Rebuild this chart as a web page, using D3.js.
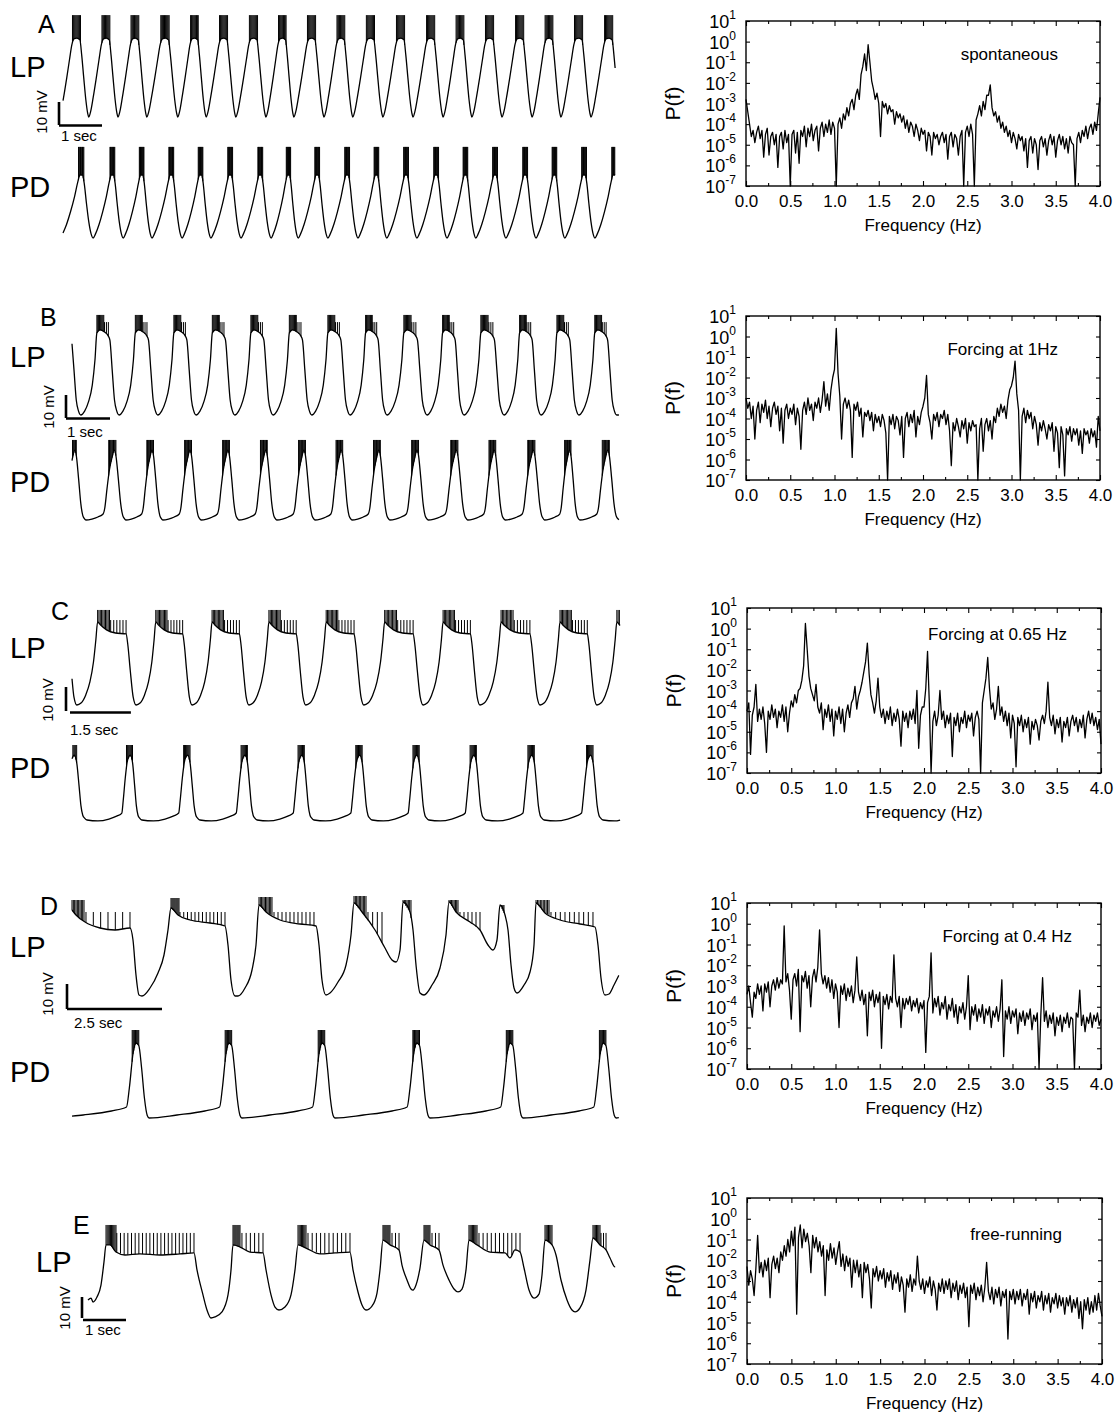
<!DOCTYPE html>
<html><head><meta charset="utf-8">
<script src="https://cdn.jsdelivr.net/npm/d3@7"></script>
<style>body{margin:0;background:#fff}</style>
</head><body>
<script>
// ================= DATA =================
// Power spectra: log10 P(f) sampled every 0.02 Hz from 0.00 to 4.00 Hz
const freqStep = 0.02;
const specA = [
-2.8,-3.4,-4.0,-4.6,-4.3,-4.9,-4.4,-4.1,-4.7,-4.3,
-5.6,-4.5,-4.2,-5.5,-4.6,-4.4,-5.0,-4.5,-6.1,-4.6,
-4.4,-5.2,-4.3,-4.9,-4.5,-7.0,-4.5,-4.3,-5.4,-4.4,
-5.9,-4.3,-4.6,-4.1,-5.1,-4.2,-4.6,-4.0,-4.8,-4.3,
-4.1,-5.3,-4.2,-3.9,-4.6,-4.0,-4.4,-3.8,-4.5,-3.9,
-4.2,-7.0,-4.0,-3.7,-4.2,-3.5,-3.8,-3.2,-3.6,-3.0,
-2.8,-3.3,-2.6,-2.3,-2.8,-1.6,-1.2,-0.6,-1.4,-0.15,
-1.0,-1.9,-2.3,-2.8,-2.5,-3.0,-4.6,-2.9,-3.2,-3.0,
-3.5,-3.1,-3.4,-3.3,-4.0,-3.4,-3.7,-3.5,-3.9,-3.6,
-4.2,-3.8,-4.4,-3.9,-4.1,-4.6,-4.0,-4.3,-4.8,-4.2,
-4.5,-4.3,-5.3,-4.4,-4.6,-5.5,-4.4,-4.7,-4.5,-5.0,
-4.6,-4.4,-4.9,-4.5,-5.7,-4.6,-4.4,-5.1,-4.5,-4.7,
-5.5,-4.6,-4.3,-7.0,-4.4,-4.1,-4.6,-4.0,-4.5,-7.0,
-3.8,-3.5,-3.1,-3.6,-2.9,-3.3,-2.6,-2.6,-2.1,-3.2,
-3.6,-3.4,-3.9,-3.6,-4.2,-3.9,-4.4,-4.1,-4.6,-4.3,
-4.9,-4.4,-4.7,-5.2,-4.5,-4.8,-4.6,-5.3,-4.7,-6.1,
-4.8,-4.6,-5.4,-4.7,-5.0,-6.2,-4.8,-4.6,-5.1,-4.7,
-5.5,-4.8,-4.5,-5.0,-4.6,-5.6,-4.8,-4.5,-5.0,-4.6,
-5.2,-4.7,-5.4,-4.6,-4.9,-5.0,-7.0,-4.7,-4.4,-4.9,
-4.3,-4.6,-4.1,-4.7,-4.2,-4.0,-4.5,-3.9,-4.3,-3.5,
-2.7];
const specB = [
-3.0,-3.5,-3.2,-4.0,-3.4,-5.0,-3.6,-3.2,-4.2,-3.3,
-3.7,-3.1,-4.0,-3.4,-4.4,-3.5,-3.2,-3.8,-3.4,-4.6,
-3.5,-5.2,-3.6,-3.3,-4.0,-3.5,-3.8,-3.3,-4.3,-3.5,
-3.9,-5.5,-3.6,-3.2,-3.8,-3.0,-3.6,-3.3,-4.1,-3.2,
-3.5,-3.0,-3.7,-3.1,-2.2,-3.4,-2.8,-3.6,-2.6,-2.0,
-1.6,0.4,-1.8,-2.9,-5.0,-3.3,-3.0,-3.5,-3.1,-3.6,
-5.9,-3.3,-3.6,-3.2,-3.9,-3.5,-4.9,-3.7,-3.9,-3.6,
-4.1,-3.7,-4.6,-3.8,-4.2,-3.9,-4.4,-3.8,-4.1,-4.7,
-7.0,-3.9,-4.3,-3.8,-4.5,-3.9,-4.1,-4.8,-3.9,-5.9,
-4.0,-3.7,-4.4,-3.8,-4.2,-3.6,-4.9,-3.9,-4.3,-3.7,
-3.4,-3.0,-1.9,-3.8,-4.2,-5.0,-3.8,-4.1,-3.7,-4.4,
-3.8,-4.0,-3.6,-4.3,-3.8,-4.6,-6.3,-4.2,-4.6,-4.0,
-4.4,-4.9,-4.1,-4.5,-4.0,-5.2,-4.2,-4.6,-4.1,-4.4,
-4.3,-7.0,-4.5,-4.0,-5.6,-4.3,-4.0,-4.6,-4.1,-5.0,
-3.9,-4.2,-3.5,-3.9,-3.3,-3.7,-3.4,-4.0,-3.1,-2.6,
-2.4,-2.0,-1.2,-2.8,-3.6,-7.0,-3.9,-3.5,-4.2,-3.6,
-4.0,-3.7,-4.5,-3.9,-4.3,-5.3,-4.2,-4.6,-4.1,-4.5,
-5.0,-4.3,-4.6,-4.2,-5.6,-4.4,-4.7,-6.4,-4.4,-4.8,
-6.8,-4.5,-4.8,-4.4,-5.1,-4.5,-4.8,-4.5,-5.3,-4.6,
-5.7,-4.5,-4.8,-4.6,-5.2,-4.5,-4.9,-4.6,-5.4,-3.9,
-4.6];
const specC = [
-4.0,-3.6,-6.1,-4.2,-3.8,-2.7,-4.5,-3.9,-4.4,-3.8,
-4.6,-6.0,-4.0,-4.4,-3.7,-4.3,-3.9,-4.8,-4.0,-4.3,
-3.7,-4.5,-3.8,-5.0,-4.1,-3.5,-3.8,-3.2,-3.6,-3.0,
-2.9,-2.5,-1.8,0.25,-1.0,-2.3,-2.9,-3.2,-3.5,-2.7,
-3.8,-4.1,-3.6,-4.9,-3.9,-4.3,-3.7,-4.5,-3.9,-5.2,
-4.0,-4.4,-3.8,-4.6,-3.9,-5.0,-4.1,-3.7,-4.3,-3.6,
-3.4,-2.8,-3.9,-3.3,-3.0,-2.6,-2.1,-1.6,-0.7,-2.2,
-3.2,-3.6,-4.1,-3.5,-2.4,-3.8,-4.3,-3.9,-4.6,-4.0,
-4.4,-3.8,-4.7,-4.1,-4.5,-3.9,-4.4,-5.7,-4.0,-4.5,
-4.1,-4.8,-4.0,-4.4,-3.9,-4.6,-3.0,-5.8,-4.2,-3.8,
-3.8,-2.9,-1.1,-3.6,-7.0,-4.5,-4.0,-4.7,-4.2,-3.0,
-4.4,-4.0,-4.8,-4.2,-4.6,-4.1,-6.2,-4.3,-4.7,-4.1,
-5.0,-4.3,-4.6,-4.0,-4.8,-4.2,-4.5,-4.1,-5.2,-4.3,
-4.0,-4.4,-7.0,-3.6,-3.0,-2.4,-1.4,-2.9,-3.9,-3.6,
-4.4,-3.9,-2.8,-4.2,-3.8,-4.5,-4.0,-4.7,-4.1,-5.3,
-4.2,-4.6,-6.7,-4.3,-4.7,-4.2,-5.0,-4.4,-4.8,-4.3,
-5.6,-4.5,-4.9,-4.4,-4.7,-5.4,-4.5,-4.2,-4.6,-4.0,
-2.6,-4.3,-4.7,-4.2,-5.1,-4.4,-4.8,-4.3,-5.5,-4.5,
-4.8,-4.3,-5.2,-4.5,-4.2,-4.7,-4.3,-5.0,-4.4,-4.8,
-4.2,-5.3,-4.4,-4.0,-4.6,-4.1,-4.7,-4.3,-4.9,-4.4,
-5.6];
const specD = [
-3.4,-3.0,-3.8,-4.5,-3.3,-3.6,-2.9,-3.4,-3.0,-4.2,
-2.9,-3.3,-2.8,-4.0,-3.0,-2.7,-3.2,-2.6,-3.1,-2.7,
-2.9,-0.1,-2.8,-2.4,-3.2,-4.6,-2.7,-2.4,-3.0,-2.2,
-5.2,-2.5,-2.8,-2.3,-3.1,-2.5,-4.0,-2.6,-2.2,-2.8,
-2.1,-0.3,-2.4,-2.9,-2.5,-3.1,-2.6,-3.3,-2.7,-3.6,
-2.9,-3.3,-5.0,-3.0,-3.4,-2.9,-3.7,-3.1,-3.5,-3.0,
-3.8,-3.2,-1.6,-3.3,-3.7,-3.2,-3.9,-3.4,-5.4,-3.3,
-3.7,-3.2,-4.0,-3.4,-3.8,-3.3,-6.0,-3.5,-3.9,-3.4,
-4.1,-3.5,-3.8,-1.5,-3.6,-4.0,-3.5,-5.0,-3.6,-4.1,
-3.6,-3.9,-3.5,-4.2,-3.7,-4.0,-3.6,-4.3,-3.8,-4.1,
-3.7,-6.2,-3.8,-3.5,-1.4,-4.3,-3.6,-4.0,-3.5,-4.4,
-3.8,-4.1,-3.5,-4.6,-3.9,-4.2,-3.6,-4.5,-3.9,-4.8,
-4.0,-4.3,-3.8,-4.6,-4.0,-2.5,-5.1,-4.0,-4.4,-3.9,
-4.7,-4.1,-4.5,-3.9,-4.8,-4.1,-4.4,-4.0,-5.0,-4.2,
-4.5,-4.0,-4.7,-4.1,-2.7,-6.4,-4.2,-4.6,-4.0,-4.8,
-4.2,-4.5,-4.1,-5.3,-4.3,-4.7,-4.2,-4.9,-4.3,-4.6,
-4.1,-5.1,-4.4,-4.7,-4.3,-7.0,-4.4,-2.6,-4.7,-4.2,
-5.0,-4.4,-4.8,-4.3,-5.4,-4.5,-4.9,-4.4,-5.2,-4.5,
-4.8,-4.3,-5.0,-4.5,-4.6,-7.0,-4.3,-4.5,-3.2,-4.9,
-4.4,-5.2,-4.5,-4.8,-4.3,-5.0,-4.4,-4.7,-4.3,-4.9,
-4.6];
const specE = [
-2.3,-3.2,-2.5,-2.9,-3.7,-2.4,-0.8,-2.6,-2.1,-2.8,
-2.0,-2.5,-1.9,-3.8,-2.2,-1.8,-2.4,-1.9,-2.6,-1.6,
-2.0,-1.3,-1.8,-1.0,-1.6,-0.6,-1.3,-0.4,-4.6,-0.9,
-0.3,-1.4,-0.5,-1.1,-0.7,-1.3,-2.6,-0.8,-1.4,-0.9,
-1.6,-1.1,-1.8,-1.3,-3.7,-1.5,-2.0,-1.2,-1.9,-1.4,
-2.2,-1.6,-1.1,-2.3,-1.7,-2.5,-1.8,-2.3,-1.9,-3.3,
-2.0,-2.6,-2.0,-2.8,-2.2,-3.8,-2.1,-2.6,-2.2,-2.9,
-4.3,-2.4,-2.8,-2.3,-3.0,-2.5,-2.9,-2.4,-3.3,-2.6,
-3.0,-2.5,-3.4,-2.7,-3.1,-2.6,-3.5,-2.8,-3.2,-4.5,
-2.9,-3.3,-2.7,-3.5,-2.9,-3.2,-1.8,-3.0,-3.4,-2.9,
-3.6,-3.0,-3.3,-2.8,-3.7,-3.0,-3.4,-4.4,-3.1,-3.5,
-2.9,-3.6,-3.0,-3.4,-2.9,-3.8,-3.1,-3.5,-3.0,-3.9,
-3.2,-3.6,-3.1,-3.8,-3.3,-5.2,-3.2,-3.6,-3.1,-3.9,
-3.3,-3.7,-3.2,-4.0,-3.3,-2.1,-3.5,-3.9,-3.3,-4.1,
-3.4,-3.8,-3.3,-4.2,-3.5,-3.8,-3.4,-5.8,-3.5,-3.9,
-3.4,-4.1,-3.5,-3.9,-3.4,-4.2,-3.6,-3.9,-3.4,-4.6,
-3.6,-4.0,-3.5,-4.3,-3.7,-4.0,-3.5,-4.4,-3.7,-4.1,
-3.6,-4.5,-3.8,-4.1,-3.6,-4.3,-3.7,-4.2,-3.8,-4.6,
-3.8,-4.2,-3.7,-4.5,-3.9,-4.3,-3.8,-4.8,-4.0,-5.3,
-3.9,-4.4,-3.8,-4.6,-4.0,-4.5,-3.7,-4.4,-3.6,-4.2,
-4.7];
const specLabels = ["spontaneous", "Forcing at 1Hz", "Forcing at 0.65 Hz", "Forcing at 0.4 Hz", "free-running"];
const freqTicks = [0.0, 0.5, 1.0, 1.5, 2.0, 2.5, 3.0, 3.5, 4.0];
const freqMinorTicks = [0.25, 0.75, 1.25, 1.75, 2.25, 2.75, 3.25, 3.75];
const decadeTicks = [1, 0, -1, -2, -3, -4, -5, -6, -7];

// Voltage traces. Regular rhythms: one-cycle shape [phase, mV above trough]
// plus trough times (s); bursts [phaseStart, phaseEnd, nSpikes, spikeTop mV].
const lpA_shape = [[0,0],[0.06,2.2],[0.15,8.5],[0.25,16.5],[0.35,25],[0.43,31.5],[0.5,34],[0.6,34.3],[0.7,33.5],[0.76,27],[0.83,17],[0.9,7.5],[0.96,1.8]];
const lpA_troughs = [-0.09,0.60,1.28,1.95,2.67,3.33,4.02,4.72,5.37,6.07,6.74,7.44,8.14,8.84,9.51,10.21,10.91,11.58,12.28];
const lpA_bursts = [[0.45,0.72,10,44.3]];
const pdA_shape = [[0,0],[0.08,1.8],[0.2,6],[0.32,11.5],[0.44,18],[0.54,24.5],[0.6,27.4],[0.68,27.4],[0.73,24],[0.8,15],[0.87,7],[0.94,1.8]];
const pdA_troughs = [-0.07,0.70,1.40,2.07,2.77,3.44,4.14,4.84,5.47,6.16,6.86,7.53,8.23,8.93,9.60,10.30,11.00,11.67,12.37];
const pdA_bursts = [[0.56,0.72,9,39.6]];

const lpB_shape = [[0,0],[0.1,1.7],[0.2,5.7],[0.3,13],[0.37,23.9],[0.42,35.7],[0.5,37],[0.62,36.1],[0.72,34.3],[0.76,32.6],[0.82,19.6],[0.88,6.5],[0.94,1.7]];
const lpB_troughs = [-0.66,0.20,1.07,1.95,2.82,3.70,4.57,5.45,6.32,7.16,8.07,8.91,9.82,10.66,11.52];
const lpB_bursts = [[0.42,0.6,9,43.5],[0.62,0.72,3,40.4]];
const pdB_shape = [[0,0.9],[0.05,0],[0.2,0.4],[0.35,1.3],[0.48,2.6],[0.52,5],[0.58,14],[0.64,22],[0.7,27],[0.76,30.4],[0.8,28],[0.86,18],[0.92,7],[0.97,2]];
const pdB_troughs = [-0.59,0.27,1.18,2.02,2.89,3.75,4.61,5.48,6.32,7.18,8.05,8.95,9.80,10.70,11.50,12.39];
const pdB_bursts = [[0.62,0.8,10,34.8]];

const lpC_shape = [[0,0],[0.07,0.8],[0.15,4.2],[0.22,9.6],[0.28,17.9],[0.32,27.1],[0.35,34.6],[0.4,33.3],[0.5,31.3],[0.65,30],[0.83,29.6],[0.86,25],[0.9,14.6],[0.95,3.3]];
const lpC_troughs = [-1.31,0.12,1.58,2.96,4.36,5.76,7.19,8.65,10.05,11.53,12.93];
const lpC_bursts = [[0.35,0.55,10,39.6],[0.57,0.83,6,35.4]];
const pdC_shape = [[0,0],[0.2,-0.4],[0.4,0.4],[0.55,1.7],[0.635,2.9],[0.66,8],[0.7,18],[0.74,25],[0.79,27],[0.83,24],[0.87,14],[0.9,6],[0.93,2],[0.96,0.8]];
const pdC_troughs = [-1.13,0.37,1.72,3.15,4.56,5.96,7.39,8.79,10.20,11.63,13.08];
const pdC_bursts = [[0.72,0.83,8,31.25]];

const pdD_shape = [[0,0],[0.3,1.2],[0.6,2.8],[0.76,4.4],[0.79,12],[0.83,26],[0.86,30],[0.89,29],[0.92,20],[0.95,8],[0.98,1]];
const pdD_troughs = [-0.45,2.03,4.47,6.92,9.42,11.87,14.32];
const pdD_bursts = [[0.82,0.89,9,35.2]];

// Irregular rhythms: slow wave [t s, mV] and spike groups [tStart, tEnd, n, top mV]
const lpD_wave = [[0,34.8],[0.105,32.8],[0.342,30],[0.737,27.6],[1.132,26.8],[1.526,27.6],[1.605,22.8],[1.684,8.8],[1.763,0.8],[1.842,0.4],[2.053,3.6],[2.263,9.6],[2.421,16.8],[2.526,26.8],[2.605,35.6],[2.789,32.8],[3.105,30.8],[3.632,29.6],[4.026,28.4],[4.105,20.8],[4.184,6.8],[4.289,0.4],[4.368,0.4],[4.553,3.6],[4.737,10.8],[4.842,20.8],[4.921,36.8],[5.105,34],[5.474,30.8],[6.0,29.2],[6.421,28.4],[6.5,20.8],[6.579,6.8],[6.684,0.8],[6.789,1.6],[7.0,6],[7.211,12.8],[7.342,24.8],[7.421,37.6],[7.632,34],[7.974,26.8],[8.237,19.6],[8.421,14.8],[8.526,14],[8.632,18.8],[8.711,38],[8.895,34],[8.974,26.8],[9.053,12.8],[9.158,1.6],[9.263,0.8],[9.474,4.8],[9.684,11.6],[9.842,24.8],[9.921,38],[10.105,34],[10.474,30],[10.737,26.8],[10.947,20.8],[11.079,18.8],[11.184,22.8],[11.263,36.8],[11.395,32.8],[11.474,26.8],[11.553,12.8],[11.632,3.6],[11.711,1.6],[11.895,4.8],[12.053,10],[12.158,20.8],[12.211,37.6],[12.447,33.6],[12.842,30.8],[13.368,29.2],[13.763,28],[13.842,20.8],[13.921,7.6],[14.026,0.8],[14.132,1.2],[14.263,4.8],[14.395,8.8]];
const lpD_spikes = [[0,0.316,10,38.8],[0.368,1.526,7,34],[2.605,2.816,9,39.6],[2.842,4.026,13,34],[4.921,5.263,11,40],[5.316,6.368,11,34],[7.421,7.737,10,40.4],[7.789,8.158,4,34],[8.711,8.921,7,38.8],[9.921,10.158,8,38.8],[10.21,10.737,6,34],[11.263,11.368,5,36.8],[12.211,12.553,10,38.8],[12.605,13.71,10,34]];

const lpE_wave = [[0,8.6],[0.07,9.5],[0.116,7.6],[0.209,10],[0.302,15.7],[0.372,26.7],[0.419,34.8],[0.512,34.8],[0.651,31.4],[0.86,30],[1.209,30.5],[1.674,30],[2.14,30.5],[2.465,31],[2.535,22.9],[2.674,11],[2.767,3.8],[2.86,0],[2.953,0.5],[3.116,2.9],[3.256,11],[3.326,22.9],[3.372,34.8],[3.535,33.8],[3.767,31.4],[4.07,31],[4.14,22.9],[4.256,11],[4.349,5.2],[4.442,3.8],[4.581,5.2],[4.721,11],[4.814,22.9],[4.884,34.8],[5.07,33.3],[5.395,30.5],[5.744,31],[6.093,31.4],[6.163,22.9],[6.279,12.4],[6.372,6.2],[6.465,3.8],[6.605,5.7],[6.721,11.9],[6.791,22.9],[6.86,37.1],[7.023,34.8],[7.233,32.4],[7.302,25.2],[7.419,18.1],[7.512,13.8],[7.558,13.3],[7.628,15.7],[7.721,23.8],[7.814,37.1],[7.953,34.8],[8.163,32.4],[8.256,25.2],[8.395,18.1],[8.512,13.8],[8.605,12.4],[8.698,13.8],[8.791,22.9],[8.86,37.1],[9.047,34.8],[9.349,31.4],[9.698,31],[9.814,28.6],[9.93,32.4],[10.047,31.4],[10.14,23.8],[10.256,13.3],[10.372,9.5],[10.488,11.4],[10.558,20.5],[10.628,37.1],[10.791,34.8],[10.884,30],[11.0,18.1],[11.14,8.6],[11.256,3.8],[11.326,2.9],[11.442,4.8],[11.581,13.3],[11.674,27.6],[11.744,38.1],[11.907,34.8],[12.047,32.4],[12.14,28.6],[12.256,24.3]];
const lpE_spikes = [[0.419,0.651,10,44.3],[0.67,2.465,22,40.5],[3.372,3.535,8,44.3],[3.58,4.07,6,40.5],[4.884,5.07,8,44.3],[5.116,6.093,11,40.5],[6.86,7.023,8,44.3],[7.07,7.233,3,40.5],[7.814,7.953,7,44.3],[8.0,8.163,3,40.5],[8.86,9.047,8,44.3],[9.093,10.047,11,40.5],[10.628,10.791,7,44.3],[11.744,11.907,7,44.3],[11.93,12.047,3,40.5]];

const panelLetters = ["A","B","C","D","E"];
const scaleBarTimes = [1, 1, 1.5, 2.5, 1];

// ================= LAYOUT =================
const FONT = '"Liberation Sans", Arial, Helvetica, sans-serif';
const svg = d3.select("body").append("svg").attr("width",1120).attr("height",1419)
  .style("font-family",FONT);

const rows = [
  {x0:63, pps:43,   tEnd:12.84, k:2.3, lpY:117,  pdY:238,
   letter:[38,33], lp:[10,77], pd:[10,197],
   bar:{vx:59,vy:125,hx:59,hy:125.5,lx:61,ly:141,mx:47,my:112}},
  {x0:72, pps:44,   tEnd:12.43, k:2.3, lpY:415,  pdY:520,
   letter:[40,326], lp:[10,367], pd:[10,492],
   bar:{vx:66,vy:418,hx:66,hy:418.5,lx:67,ly:437,mx:54,my:407}},
  {x0:72, pps:40.6, tEnd:13.5,  k:2.4, lpY:705,  pdY:820,
   letter:[51,620], lp:[10,658], pd:[10,778],
   bar:{vx:66,vy:711,hx:70,hy:712.5,lx:70,ly:735,mx:53,my:700}},
  {x0:72, pps:38,   tEnd:14.39, k:2.5, lpY:997,  pdY:1118,
   letter:[40,915], lp:[10,957], pd:[10,1082],
   bar:{vx:67,vy:1009,hx:67,hy:1009,lx:74,ly:1028,mx:53,my:994}},
  {x0:88, pps:43,   tEnd:12.26, k:2.1, lpY:1318, pdY:null,
   letter:[73,1234], lp:[36,1272], pd:null,
   bar:{vx:82,vy:1318,hx:83,hy:1320,lx:85,ly:1335,mx:70,my:1308}}
];

const specPanels = [
  {L:746, T:21,   W:354, H:165, lx:1058, ly:60},
  {L:746, T:316,  W:354, H:164, lx:1058, ly:355},
  {L:747, T:608,  W:354, H:165, lx:1067, ly:640},
  {L:747, T:903,  W:354, H:166, lx:1072, ly:942},
  {L:747, T:1198, W:355, H:166, lx:1062, ly:1240}
];

// ================= HELPERS =================
function expandShape(shape, troughs){
  const pts=[];
  troughs.forEach((t0,i)=>{
    const per = i<troughs.length-1 ? troughs[i+1]-t0 : t0-troughs[i-1];
    shape.forEach(([p,v])=>pts.push([t0+p*per, v]));
  });
  const n=troughs.length, per=troughs[n-1]-troughs[n-2];
  pts.push([troughs[n-1]+per, shape[0][1]]);
  return pts;
}
function expandBursts(bursts, troughs){
  const out=[];
  troughs.forEach((t0,i)=>{
    const per = i<troughs.length-1 ? troughs[i+1]-t0 : t0-troughs[i-1];
    bursts.forEach(([p0,p1,n,top])=>out.push([t0+p0*per, t0+p1*per, n, top]));
  });
  return out;
}
function interpFn(pts){
  const bis=d3.bisector(d=>d[0]).right;
  return t=>{
    const i=bis(pts,t);
    if(i<=0) return pts[0][1];
    if(i>=pts.length) return pts[pts.length-1][1];
    const a=pts[i-1], b=pts[i];
    const u=(t-a[0])/((b[0]-a[0])||1);
    return a[1]+(b[1]-a[1])*u;
  };
}
function timeScale(row){
  return d3.scaleLinear().domain([0,row.tEnd]).range([row.x0,row.x0+row.tEnd*row.pps]);
}
function drawTrace(row, yBase, pts, spikes){
  const xs=timeScale(row);
  const ys=d3.scaleLinear().domain([0,10]).range([yBase,yBase-10*row.k]);
  const f=interpFn(pts);
  const clipped=[[0,f(0)], ...pts.filter(d=>d[0]>0&&d[0]<row.tEnd), [row.tEnd,f(row.tEnd)]];
  svg.append("path").datum(clipped)
    .attr("d", d3.line().x(d=>xs(d[0])).y(d=>ys(d[1])).curve(d3.curveMonotoneX))
    .attr("fill","none").attr("stroke","#000").attr("stroke-width",1.3).attr("stroke-linejoin","round");
  const sp=[];
  spikes.forEach(([a,b,n,top])=>{
    for(let j=0;j<n;j++){
      const t = n>1 ? a+(b-a)*j/(n-1) : a;
      if(t>=0 && t<=row.tEnd) sp.push([t, f(t), top]);
    }
  });
  svg.append("g").selectAll("line").data(sp).join("line")
    .attr("x1",d=>xs(d[0])).attr("x2",d=>xs(d[0]))
    .attr("y1",d=>ys(d[1])).attr("y2",d=>ys(d[2]))
    .attr("stroke","#000").attr("stroke-width",1);
}
function drawRowLabels(row, i){
  svg.append("text").attr("x",row.letter[0]).attr("y",row.letter[1]).attr("font-size",25).text(panelLetters[i]);
  svg.append("text").attr("x",row.lp[0]).attr("y",row.lp[1]).attr("font-size",29).text("LP");
  if(row.pd) svg.append("text").attr("x",row.pd[0]).attr("y",row.pd[1]).attr("font-size",29).text("PD");
  const b=row.bar, xs=timeScale(row);
  const hLen = xs(scaleBarTimes[i]) - xs(0);
  const vLen = 10*row.k;
  svg.append("line").attr("x1",b.vx).attr("x2",b.vx).attr("y1",b.vy).attr("y2",b.vy-vLen)
    .attr("stroke","#000").attr("stroke-width",2.6);
  svg.append("line").attr("x1",b.hx).attr("x2",b.hx+hLen).attr("y1",b.hy).attr("y2",b.hy)
    .attr("stroke","#000").attr("stroke-width",2.6);
  svg.append("text").attr("x",b.lx).attr("y",b.ly).attr("font-size",15).text(scaleBarTimes[i]+" sec");
  svg.append("text").attr("transform",`translate(${b.mx},${b.my}) rotate(-90)`)
    .attr("text-anchor","middle").attr("font-size",15).text("10 mV");
}
function drawSpectrum(p, values, label){
  const x=d3.scaleLinear().domain([0,4]).range([p.L,p.L+p.W]);
  const y=d3.scaleLog().domain([1e-7,1e1]).range([p.T+p.H,p.T]);
  const g=svg.append("g");
  const data=values.map((e,i)=>[i*freqStep, Math.pow(10,Math.max(e,-7))]);
  g.append("path").datum(data)
    .attr("d", d3.line().x(d=>x(d[0])).y(d=>y(d[1])))
    .attr("fill","none").attr("stroke","#000").attr("stroke-width",1.3).attr("stroke-linejoin","round");
  const axStyle=sel=>{sel.select(".domain").remove(); sel.attr("font-family",FONT); sel.selectAll("line").attr("stroke","#000").attr("stroke-width",1.1);};
  g.append("g").attr("transform",`translate(0,${p.T+p.H})`)
    .call(d3.axisBottom(x).tickValues(freqTicks).tickSize(-5).tickPadding(9).tickFormat(d3.format(".1f")))
    .call(axStyle).attr("font-size",17);
  g.append("g").attr("transform",`translate(0,${p.T+p.H})`)
    .call(d3.axisBottom(x).tickValues(freqMinorTicks).tickSize(-3).tickFormat("")).call(axStyle);
  g.append("g").attr("transform",`translate(0,${p.T})`)
    .call(d3.axisTop(x).tickValues(freqTicks).tickSize(-5).tickFormat("")).call(axStyle);
  g.append("g").attr("transform",`translate(0,${p.T})`)
    .call(d3.axisTop(x).tickValues(freqMinorTicks).tickSize(-3).tickFormat("")).call(axStyle);
  const dec=decadeTicks.map(e=>Math.pow(10,e));
  g.append("g").attr("transform",`translate(${p.L},0)`)
    .call(d3.axisLeft(y).tickValues(dec).tickSize(-4).tickFormat("")).call(axStyle);
  g.append("g").attr("transform",`translate(${p.L+p.W},0)`)
    .call(d3.axisRight(y).tickValues(dec).tickSize(-4).tickFormat("")).call(axStyle);
  g.append("rect").attr("x",p.L).attr("y",p.T).attr("width",p.W).attr("height",p.H)
    .attr("fill","none").attr("stroke","#000").attr("stroke-width",1.4);
  decadeTicks.forEach(e=>{
    const t=g.append("text").attr("x",p.L-10).attr("y",y(Math.pow(10,e))+7).attr("text-anchor","end");
    t.append("tspan").attr("font-size",18).text("10");
    t.append("tspan").attr("font-size",12).attr("dy",-9).text(String(e));
  });
  g.append("text").attr("x",x(2)).attr("y",p.T+p.H+45).attr("text-anchor","middle").attr("font-size",17).text("Frequency (Hz)");
  g.append("text").attr("transform",`translate(${p.L-66},${p.T+p.H/2}) rotate(-90)`)
    .attr("text-anchor","middle").attr("font-size",21).text("P(f)");
  g.append("text").attr("x",p.lx).attr("y",p.ly).attr("text-anchor","end").attr("font-size",17).text(label);
}

// ================= DRAW =================
drawTrace(rows[0], rows[0].lpY, expandShape(lpA_shape,lpA_troughs), expandBursts(lpA_bursts,lpA_troughs));
drawTrace(rows[0], rows[0].pdY, expandShape(pdA_shape,pdA_troughs), expandBursts(pdA_bursts,pdA_troughs));
drawTrace(rows[1], rows[1].lpY, expandShape(lpB_shape,lpB_troughs), expandBursts(lpB_bursts,lpB_troughs));
drawTrace(rows[1], rows[1].pdY, expandShape(pdB_shape,pdB_troughs), expandBursts(pdB_bursts,pdB_troughs));
drawTrace(rows[2], rows[2].lpY, expandShape(lpC_shape,lpC_troughs), expandBursts(lpC_bursts,lpC_troughs));
drawTrace(rows[2], rows[2].pdY, expandShape(pdC_shape,pdC_troughs), expandBursts(pdC_bursts,pdC_troughs));
drawTrace(rows[3], rows[3].lpY, lpD_wave, lpD_spikes);
drawTrace(rows[3], rows[3].pdY, expandShape(pdD_shape,pdD_troughs), expandBursts(pdD_bursts,pdD_troughs));
drawTrace(rows[4], rows[4].lpY, lpE_wave, lpE_spikes);
rows.forEach((r,i)=>drawRowLabels(r,i));
[specA,specB,specC,specD,specE].forEach((s,i)=>drawSpectrum(specPanels[i], s, specLabels[i]));
</script>
</body></html>
